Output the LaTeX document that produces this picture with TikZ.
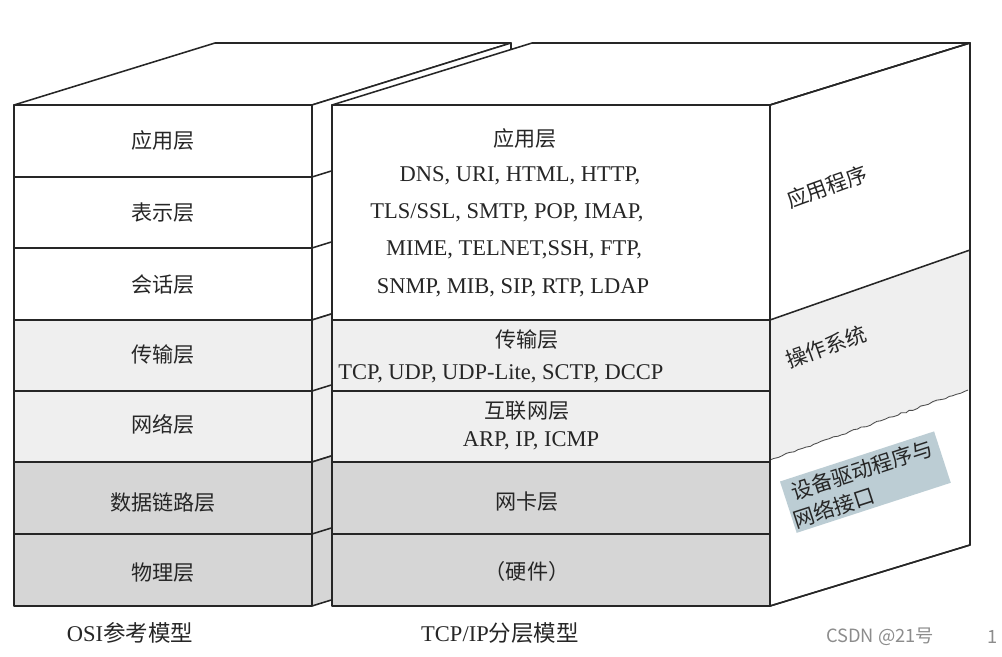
\documentclass[tikz,border=0pt]{standalone}
\usepackage{fontspec}
\setmainfont{Liberation Serif}
\newfontfamily\cjk{Noto Sans CJK SC}
\usepackage{xcolor}
\usetikzlibrary{positioning, calc, decorations.pathmorphing}
\definecolor{bandlight}{HTML}{EFEFEF}
\definecolor{banddark}{HTML}{D6D6D6}
\definecolor{markblue}{HTML}{BCCDD4}
\tikzset{
  face/.style={draw=black!85, line width=1.1pt, line join=round},
  laytext/.style={font=\cjk\fontsize{15}{18}\selectfont, text=black!85, inner sep=0pt},
  proto/.style={font=\fontsize{16}{19}\selectfont, text=black!85, inner sep=0pt},
  sidetext/.style={font=\cjk\fontsize{15}{18}\selectfont, text=black!85, inner sep=1pt, rotate=20},
  caption/.style={font=\fontsize{16}{19}\selectfont, text=black!85, inner sep=0pt},
}

\begin{document}
\begin{tikzpicture}[x=0.025cm, y=-0.025cm]
  \useasboundingbox (0,0) rectangle (1002,657);

  % OSI box: top face and side strip
  \draw[face, fill=white] (14,105) -- (215,43) -- (511,43) -- (312,105) -- cycle;
  \foreach \yt/\yb/\col in {105/320/white, 320/462/bandlight, 462/606/banddark} {
    \draw[face, fill=\col] (312,\yt) -- ++(199,-62) -- ++(0,\yb-\yt) -- (312,\yb) -- cycle;
  }
  \foreach \y in {177,248,391,534} { \draw[face] (312,\y) -- ++(199,-62); }

  % OSI front layers
  \foreach \yt/\yb/\col in {105/177/white, 177/248/white, 248/320/white, 320/391/bandlight,
                            391/462/bandlight, 462/534/banddark, 534/606/banddark} {
    \draw[face, fill=\col] (14,\yt) rectangle (312,\yb);
  }
  \foreach \i/\y/\txt in {1/140/应用层, 2/213/表示层, 3/285/会话层, 4/355/传输层,
                          5/424/网络层, 6/503/数据链路层, 7/573/物理层} {
    \node[laytext] (osi\i) at (163,\y) {\txt};
  }

  % TCP/IP box: top face and right face
  \draw[face, fill=white] (332,105) -- (532,43) -- (970,43) -- (770,105) -- cycle;
  \draw[face, fill=white] (770,105) -- (970,43) -- (970,545) -- (770,606) -- cycle;
  \fill[bandlight] (770,320) -- (970,250) -- (970,390) -- (770,460) -- cycle;
  \draw[face] (770,320) -- (970,250);
  \pgfmathsetseed{7}
  \draw[black!70, line width=0.6pt, decorate, decoration={random steps, segment length=3pt, amplitude=0.6pt}]
    (770,460) -- (968,390);
  \draw[face] (770,105) -- (970,43) -- (970,545) -- (770,606);

  % TCP/IP front layers
  \foreach \yt/\yb/\col in {105/320/white, 320/391/bandlight, 391/462/bandlight,
                            462/534/banddark, 534/606/banddark} {
    \draw[face, fill=\col] (332,\yt) rectangle (770,\yb);
  }

  % application layer
  \node[laytext] (app) at (525,138) {应用层};
  \node[proto] (app1) at (520,176) {DNS, URI, HTML, HTTP,};
  \node[proto] (app2) at (507,213) {TLS/SSL, SMTP, POP, IMAP,};
  \node[proto] (app3) at (514,250) {MIME, TELNET,SSH, FTP,};
  \node[proto] (app4) at (513,288) {SNMP, MIB, SIP, RTP, LDAP};

  % transport, internet, link, hardware
  \node[laytext] (trans) at (527,340) {传输层};
  \node[proto] (trans1) at (501,374) {TCP, UDP, UDP-Lite, SCTP, DCCP};
  \node[laytext] (inet) at (527,411) {互联网层};
  \node[proto] (inet1) at (531,441) {ARP, IP, ICMP};
  \node[laytext] (nic) at (527,502) {网卡层};
  \node[laytext] (hw) at (527,571) {（硬件）};

  % right face labels
  \node[sidetext] (prog) at (827,187) {应用程序};
  \node[sidetext] (os) at (826,347) {操作系统};
  \fill[markblue, rotate around={18:(795,505)}] (788,478) rectangle (950,532);
  \node[sidetext, rotate=-2, anchor=west] (drv1) at (790,493) {设备驱动程序与};
  \node[sidetext, rotate=-2, anchor=west] (drv2) at (792,521) {网络接口};

  % captions
  \node[caption] (osicap) at (130,633) {OSI{\cjk 参考模型}};
  \node[caption] (tcpcap) at (500,633) {TCP/IP{\cjk 分层模型}};
  \node[font=\cjk\fontsize{13}{16}\selectfont, text=black!45, inner sep=0pt] (mark) at (880,637) {CSDN @21号};
  \node[font=\cjk\fontsize{13}{16}\selectfont, text=black!45, inner sep=0pt] (page) at (993,637) {1};
\end{tikzpicture}
\end{document}
